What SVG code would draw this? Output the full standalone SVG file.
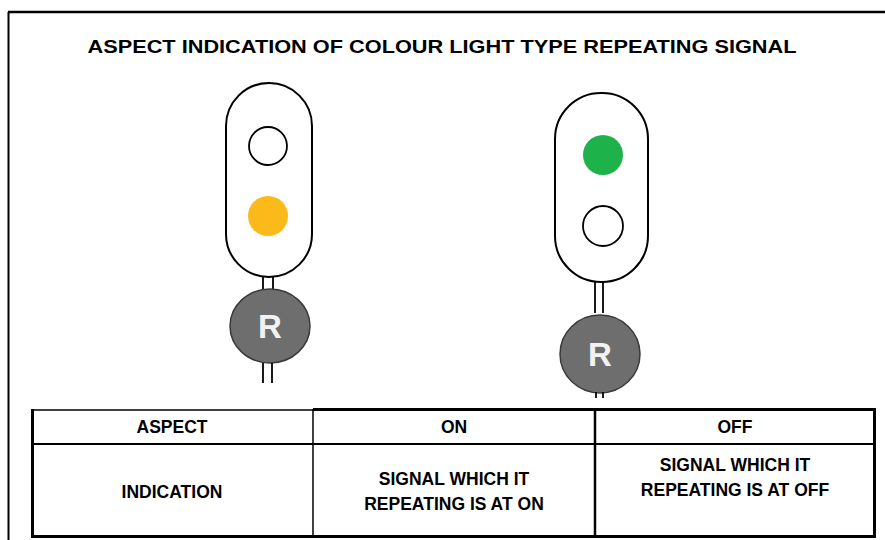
<svg xmlns="http://www.w3.org/2000/svg" width="885" height="540" viewBox="0 0 885 540">
<style>
.t{font-family:"Liberation Sans",Arial,sans-serif;font-weight:bold;fill:#000;text-anchor:middle}
.c{font-size:17.5px}
.body{fill:#fff;stroke:#000;stroke-width:2}
.lamp{fill:#fff;stroke:#000;stroke-width:1.8}
.rep{fill:#6e6e6e;stroke:#3a3a3a;stroke-width:1.5}
.stem{stroke:#000;stroke-width:1.8}
.r{font-family:"Liberation Sans",Arial,sans-serif;font-weight:bold;font-size:33px;fill:#f2f2f2;text-anchor:middle}
.grid{stroke:#000;fill:none}
</style>
<rect width="885" height="540" fill="#fff"/>
<g id="frame">
<line x1="8.5" y1="12" x2="8.5" y2="540" stroke="#000" stroke-width="2"/>
<line x1="8" y1="12" x2="885" y2="12" stroke="#000" stroke-width="2.5"/>
</g>
<text id="title" class="t" x="442" y="53" font-size="18.5" textLength="709" lengthAdjust="spacingAndGlyphs">ASPECT INDICATION OF COLOUR LIGHT TYPE REPEATING SIGNAL</text>
<g id="signal-on">
<rect class="body" x="226" y="83" width="86" height="194" rx="43"/>
<circle class="lamp" cx="268" cy="146" r="19"/>
<circle cx="268" cy="216" r="20" fill="#fbb91a"/>
<line class="stem" x1="263" y1="277" x2="263" y2="291"/>
<line class="stem" x1="273" y1="277" x2="273" y2="291"/>
<ellipse class="rep" cx="270" cy="326" rx="40" ry="37"/>
<line class="stem" x1="263" y1="363" x2="263" y2="383"/>
<line class="stem" x1="272" y1="363" x2="272" y2="383"/>
<text class="r" x="270" y="338">R</text>
</g>
<g id="signal-off">
<rect class="body" x="555" y="93" width="93" height="189" rx="46"/>
<circle cx="603" cy="155" r="20" fill="#1db24a"/>
<circle class="lamp" cx="603" cy="226" r="20"/>
<line class="stem" x1="595" y1="282" x2="595" y2="313"/>
<line class="stem" x1="603" y1="282" x2="603" y2="313"/>
<ellipse class="rep" cx="600" cy="354" rx="40" ry="39"/>
<line class="stem" x1="596" y1="392" x2="596" y2="398"/>
<line class="stem" x1="603" y1="392" x2="603" y2="398"/>
<text class="r" x="600" y="366">R</text>
</g>
<g id="table">
<line class="grid" x1="32" y1="410" x2="314" y2="410" stroke-width="1.5"/>
<line class="grid" x1="313" y1="409.5" x2="876" y2="409.5" stroke-width="3"/>
<line class="grid" x1="32" y1="444" x2="876" y2="444" stroke-width="2"/>
<line class="grid" x1="32.5" y1="409" x2="32.5" y2="538" stroke-width="3"/>
<line class="grid" x1="313" y1="409" x2="313" y2="537" stroke-width="1.5"/>
<line class="grid" x1="595" y1="409" x2="595" y2="537" stroke-width="2.5"/>
<line class="grid" x1="874.5" y1="408" x2="874.5" y2="538" stroke-width="3"/>
<line class="grid" x1="31" y1="536.5" x2="876" y2="536.5" stroke-width="3"/>
<text class="t c" x="172" y="433">ASPECT</text>
<text class="t c" x="454" y="433">ON</text>
<text class="t c" x="735" y="433">OFF</text>
<text class="t c" x="172" y="498">INDICATION</text>
<text class="t c" x="454" y="485">SIGNAL WHICH IT</text>
<text class="t c" x="454" y="510">REPEATING IS AT ON</text>
<text class="t c" x="735" y="471">SIGNAL WHICH IT</text>
<text class="t c" x="735" y="496">REPEATING IS AT OFF</text>
</g>
</svg>
